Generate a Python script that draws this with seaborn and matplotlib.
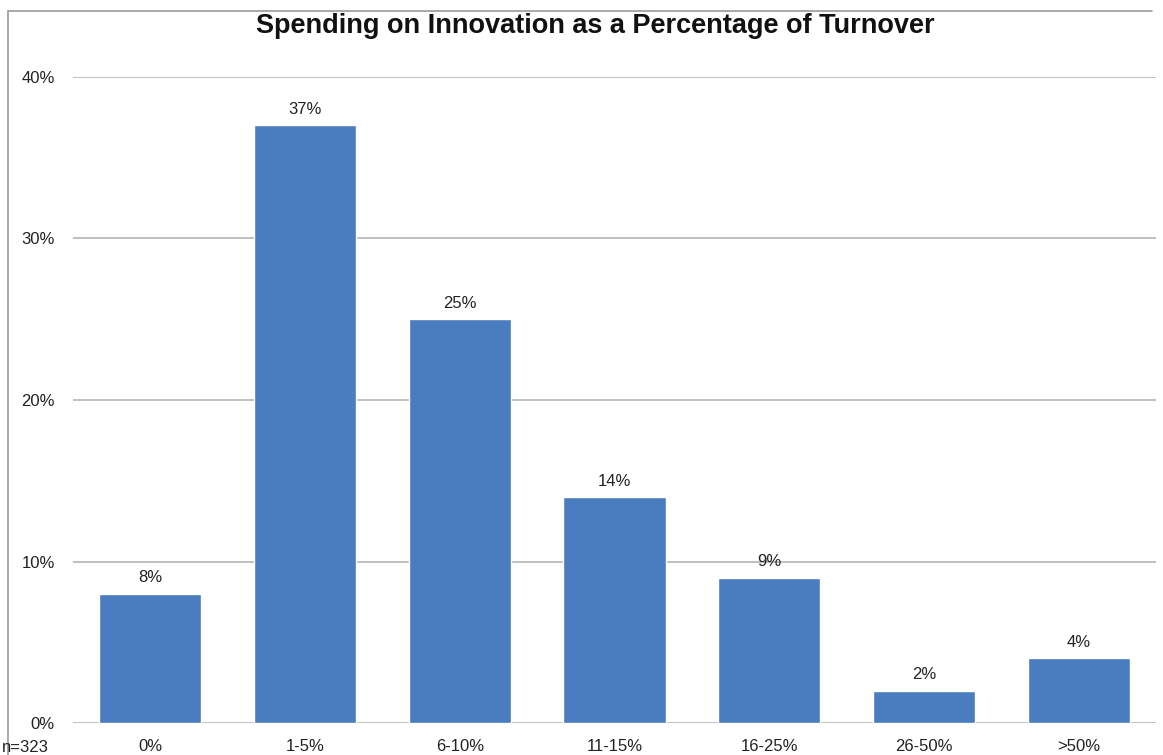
import matplotlib
matplotlib.use("Agg")
import matplotlib.pyplot as plt
from matplotlib.lines import Line2D
from matplotlib import font_manager
import seaborn as sns
import pandas as pd

categories = ["0%", "1-5%", "6-10%", "11-15%", "16-25%", "26-50%", ">50%"]
shares = [8, 37, 25, 14, 9, 2, 4]
y_ticks = [0, 10, 20, 30, 40]
title_text = "Spending on Innovation as a Percentage of Turnover"
sample_note = "n=323"

sns.set_theme(style="white")
plt.rcParams["font.family"] = ["Liberation Sans", "DejaVu Sans"]

names = {f.name for f in font_manager.fontManager.ttflist}
narrow = "Liberation Sans Narrow" in names
title_family = "Liberation Sans Narrow" if narrow else "Liberation Sans"
title_size = 22 if narrow else 19.5

df = pd.DataFrame({"band": categories, "share": shares})

W, H = 1163, 755
fig = plt.figure(figsize=(W / 100, H / 100), dpi=100)
fig.patch.set_facecolor("white")
ax = fig.add_axes([73 / W, 32 / H, (1156 - 73) / W, (723 - 77) / H])

sns.barplot(data=df, x="band", y="share", color="#4A7CC0", saturation=1,
            width=0.66, ax=ax, zorder=3)

ax.set_ylim(0, 40)
ax.set_xlim(-0.5, len(categories) - 0.5)
ax.set_yticks(y_ticks)
ax.set_yticklabels([f"{t}%" for t in y_ticks])
ax.yaxis.grid(True, color="#b4b4b4", linewidth=1.2, zorder=0)
ax.xaxis.grid(False)
for s in ax.spines.values():
    s.set_visible(False)
ax.set_xlabel("")
ax.set_ylabel("")
ax.tick_params(axis="y", length=0, pad=13, labelsize=12, labelcolor="#222222")
ax.tick_params(axis="x", length=0, pad=11.5, labelsize=12, labelcolor="#222222")

ax.bar_label(ax.containers[0], labels=[f"{v}%" for v in shares], padding=6,
             fontsize=12, color="#222222")

fig.text(595 / W, 1 - 33 / H, title_text, ha="center", va="baseline",
         fontsize=title_size, fontweight="bold", family=title_family, color="#111111")
fig.text(2 / W, 1 - 747 / H, sample_note, ha="left", va="center",
         fontsize=12, color="#222222")

# chart frame edges
fig.add_artist(Line2D([8 / W, 1152 / W], [1 - 11 / H, 1 - 11 / H],
                      transform=fig.transFigure, color="#9a9a9a", linewidth=1.2))
fig.add_artist(Line2D([8 / W, 8 / W], [1 - 11 / H, 0],
                      transform=fig.transFigure, color="#9a9a9a", linewidth=1.2))

fig.savefig("out.png", dpi=100)
